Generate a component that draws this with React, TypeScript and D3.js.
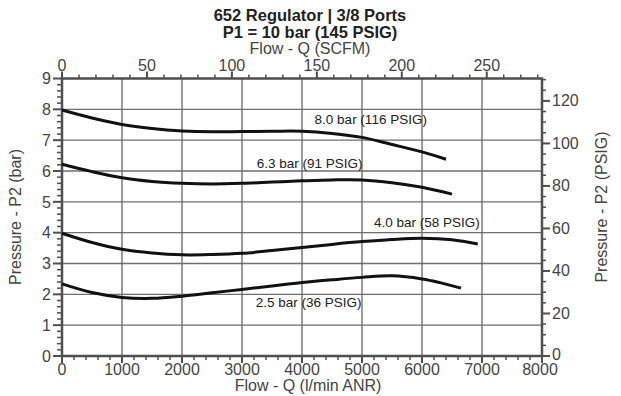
import React from "react";
import * as d3 from "d3";

const W = 621;
const H = 396;

const titleLines = ["652 Regulator | 3/8 Ports", "P1 = 10 bar (145 PSIG)"];
const topAxisTitle = "Flow - Q (SCFM)";
const bottomAxisTitle = "Flow - Q (l/min ANR)";
const leftAxisTitle = "Pressure - P2 (bar)";
const rightAxisTitle = "Pressure - P2 (PSIG)";

const flowTicks = [0, 1000, 2000, 3000, 4000, 5000, 6000, 7000, 8000];
const barTicks = [0, 1, 2, 3, 4, 5, 6, 7, 8, 9];
const scfmTicks = [0, 50, 100, 150, 200, 250];
const psigTicks = [0, 20, 40, 60, 80, 100, 120];

const flow80 = [0, 500, 1000, 1500, 2000, 2500, 3000, 3500, 4000, 4500, 5000, 5500, 6000, 6400];
const p80 = [7.98, 7.72, 7.51, 7.38, 7.3, 7.27, 7.28, 7.29, 7.29, 7.22, 7.09, 6.86, 6.62, 6.38];

const flow63 = [0, 500, 1000, 1500, 2000, 2500, 3000, 3500, 4000, 4500, 5000, 5500, 6000, 6500];
const p63 = [6.22, 5.98, 5.78, 5.66, 5.6, 5.58, 5.6, 5.64, 5.68, 5.71, 5.71, 5.62, 5.47, 5.25];

const flow40 = [0, 500, 1000, 1500, 2000, 2500, 3000, 3500, 4000, 4500, 5000, 5500, 6000, 6500, 6930];
const p40 = [3.98, 3.68, 3.46, 3.34, 3.28, 3.29, 3.33, 3.42, 3.52, 3.62, 3.71, 3.78, 3.82, 3.77, 3.63];

const flow25 = [0, 500, 1000, 1500, 2000, 2500, 3000, 3500, 4000, 4500, 5000, 5500, 6000, 6300, 6650];
const p25 = [2.34, 2.06, 1.9, 1.87, 1.94, 2.05, 2.16, 2.27, 2.38, 2.47, 2.55, 2.6, 2.5, 2.38, 2.2];

const curveLabels = ["8.0 bar (116 PSIG)", "6.3 bar (91 PSIG)", "4.0 bar (58 PSIG)", "2.5 bar (36 PSIG)"];
const labelFlow = [4210, 3245, 5200, 3230];
const labelBar = [7.52, 6.1, 4.2, 1.6];

const LPM_PER_SCFM = 28.3168;
const PSI_PER_BAR = 14.5038;

const FONT = "'Liberation Sans', Arial, Helvetica, sans-serif";
const AXIS = "#4f4f4f";
const GRID = "#6e6e6e";
const TXT = "#444";

export default function App() {
  const left = 62, right = 542, top = 78.5, bottom = 356;
  const x = d3.scaleLinear().domain([0, 8000]).range([left, right]);
  const y = d3.scaleLinear().domain([0, 9]).range([bottom, top]);
  const xs = d3.scaleLinear().domain([0, 8000 / LPM_PER_SCFM]).range([left, right]);
  const yp = d3.scaleLinear().domain([0, 9 * PSI_PER_BAR]).range([bottom, top]);

  const line = d3
    .line<[number, number]>()
    .x((d) => x(d[0]))
    .y((d) => y(d[1]))
    .curve(d3.curveCatmullRom.alpha(0.5));

  const series: [number[], number[]][] = [
    [flow80, p80],
    [flow63, p63],
    [flow40, p40],
    [flow25, p25],
  ];

  const flowMinor = d3.range(0, 8001, 200).filter((v) => v % 1000 !== 0);
  const barMinor = d3.range(0, 9.001, 0.2).filter((v) => Math.abs(v - Math.round(v)) > 0.01);
  const scfmMinor = d3.range(0, 8000 / LPM_PER_SCFM, 10).filter((v) => v % 50 !== 0);
  const psigMinor = d3.range(0, 9 * PSI_PER_BAR, 5).filter((v) => v % 20 !== 0);

  return (
    <svg width={W} height={H} style={{ position: "absolute", left: 0, top: 0, background: "#fff" }} fontFamily={FONT}>
      <rect x={0} y={0} width={W} height={H} fill="#fff" />
      {/* titles */}
      <text x={310} y={20.5} textAnchor="middle" fontSize={16.5} fontWeight="bold" fill="#222">{titleLines[0]}</text>
      <text x={310} y={37.5} textAnchor="middle" fontSize={16.5} fontWeight="bold" fill="#222">{titleLines[1]}</text>
      <text x={310} y={54} textAnchor="middle" fontSize={16} fill={TXT}>{topAxisTitle}</text>

      {/* grid */}
      {flowTicks.slice(1, -1).map((v) => (
        <line key={"gx" + v} x1={x(v)} x2={x(v)} y1={top} y2={bottom} stroke={GRID} strokeWidth={1.4} />
      ))}
      {barTicks.slice(1, -1).map((v) => (
        <line key={"gy" + v} x1={left} x2={right} y1={y(v)} y2={y(v)} stroke={GRID} strokeWidth={1.4} />
      ))}

      {/* bottom axis */}
      {flowMinor.map((v) => (
        <line key={"bm" + v} x1={x(v)} x2={x(v)} y1={bottom} y2={bottom + 4} stroke={AXIS} strokeWidth={1.5} />
      ))}
      {flowTicks.map((v) => (
        <g key={"bt" + v}>
          <line x1={x(v)} x2={x(v)} y1={bottom} y2={bottom + 7} stroke={AXIS} strokeWidth={2} />
          <text x={x(v) - (v === 8000 ? 2 : 0)} y={374.5} textAnchor="middle" fontSize={16} fill={TXT}>{v}</text>
        </g>
      ))}
      <text x={308} y={391} textAnchor="middle" fontSize={16} fill={TXT}>{bottomAxisTitle}</text>

      {/* top axis */}
      {scfmMinor.map((v) => (
        <line key={"tm" + v} x1={xs(v)} x2={xs(v)} y1={top} y2={top - 4} stroke={AXIS} strokeWidth={1.5} />
      ))}
      {scfmTicks.map((v) => (
        <g key={"tt" + v}>
          <line x1={xs(v)} x2={xs(v)} y1={top} y2={top - 7} stroke={AXIS} strokeWidth={2} />
          <text x={xs(v)} y={71} textAnchor="middle" fontSize={16} fill={TXT}>{v}</text>
        </g>
      ))}

      {/* left axis */}
      {barMinor.map((v) => (
        <line key={"lm" + v} x1={left} x2={left - 5} y1={y(v)} y2={y(v)} stroke={AXIS} strokeWidth={1.5} />
      ))}
      {barTicks.map((v) => (
        <g key={"lt" + v}>
          <line x1={left} x2={left - 9} y1={y(v)} y2={y(v)} stroke={AXIS} strokeWidth={2} />
          <text x={51} y={y(v)} dy="0.36em" textAnchor="end" fontSize={16} fill={TXT}>{v}</text>
        </g>
      ))}
      <text transform={`translate(21,217) rotate(-90)`} textAnchor="middle" fontSize={16} fill={TXT}>{leftAxisTitle}</text>

      {/* right axis */}
      {psigMinor.map((v) => (
        <line key={"rm" + v} x1={right} x2={right + 4} y1={yp(v)} y2={yp(v)} stroke={AXIS} strokeWidth={1.5} />
      ))}
      {psigTicks.map((v) => (
        <g key={"rt" + v}>
          <line x1={right} x2={right + 8} y1={yp(v)} y2={yp(v)} stroke={AXIS} strokeWidth={2} />
          <text x={552} y={yp(v) - (v === 0 ? 1.5 : 0)} dy="0.33em" textAnchor="start" fontSize={16} fill={TXT}>{v}</text>
        </g>
      ))}
      <text transform={`translate(607,207) rotate(-90)`} textAnchor="middle" fontSize={16} fill={TXT}>{rightAxisTitle}</text>

      {/* frame */}
      <rect x={left} y={top} width={right - left} height={bottom - top} fill="none" stroke={AXIS} strokeWidth={2.5} />

      {/* curves */}
      {series.map(([fx, py], i) => (
        <path
          key={"c" + i}
          d={line(fx.map((f, j) => [f, py[j]] as [number, number])) || ""}
          fill="none"
          stroke="#111"
          strokeWidth={3}
          strokeLinecap="butt"
        />
      ))}

      {/* curve labels */}
      {curveLabels.map((t, i) => (
        <text key={"l" + i} x={x(labelFlow[i])} y={y(labelBar[i])} fontSize={13.5} fill="#222">{t}</text>
      ))}
    </svg>
  );
}
